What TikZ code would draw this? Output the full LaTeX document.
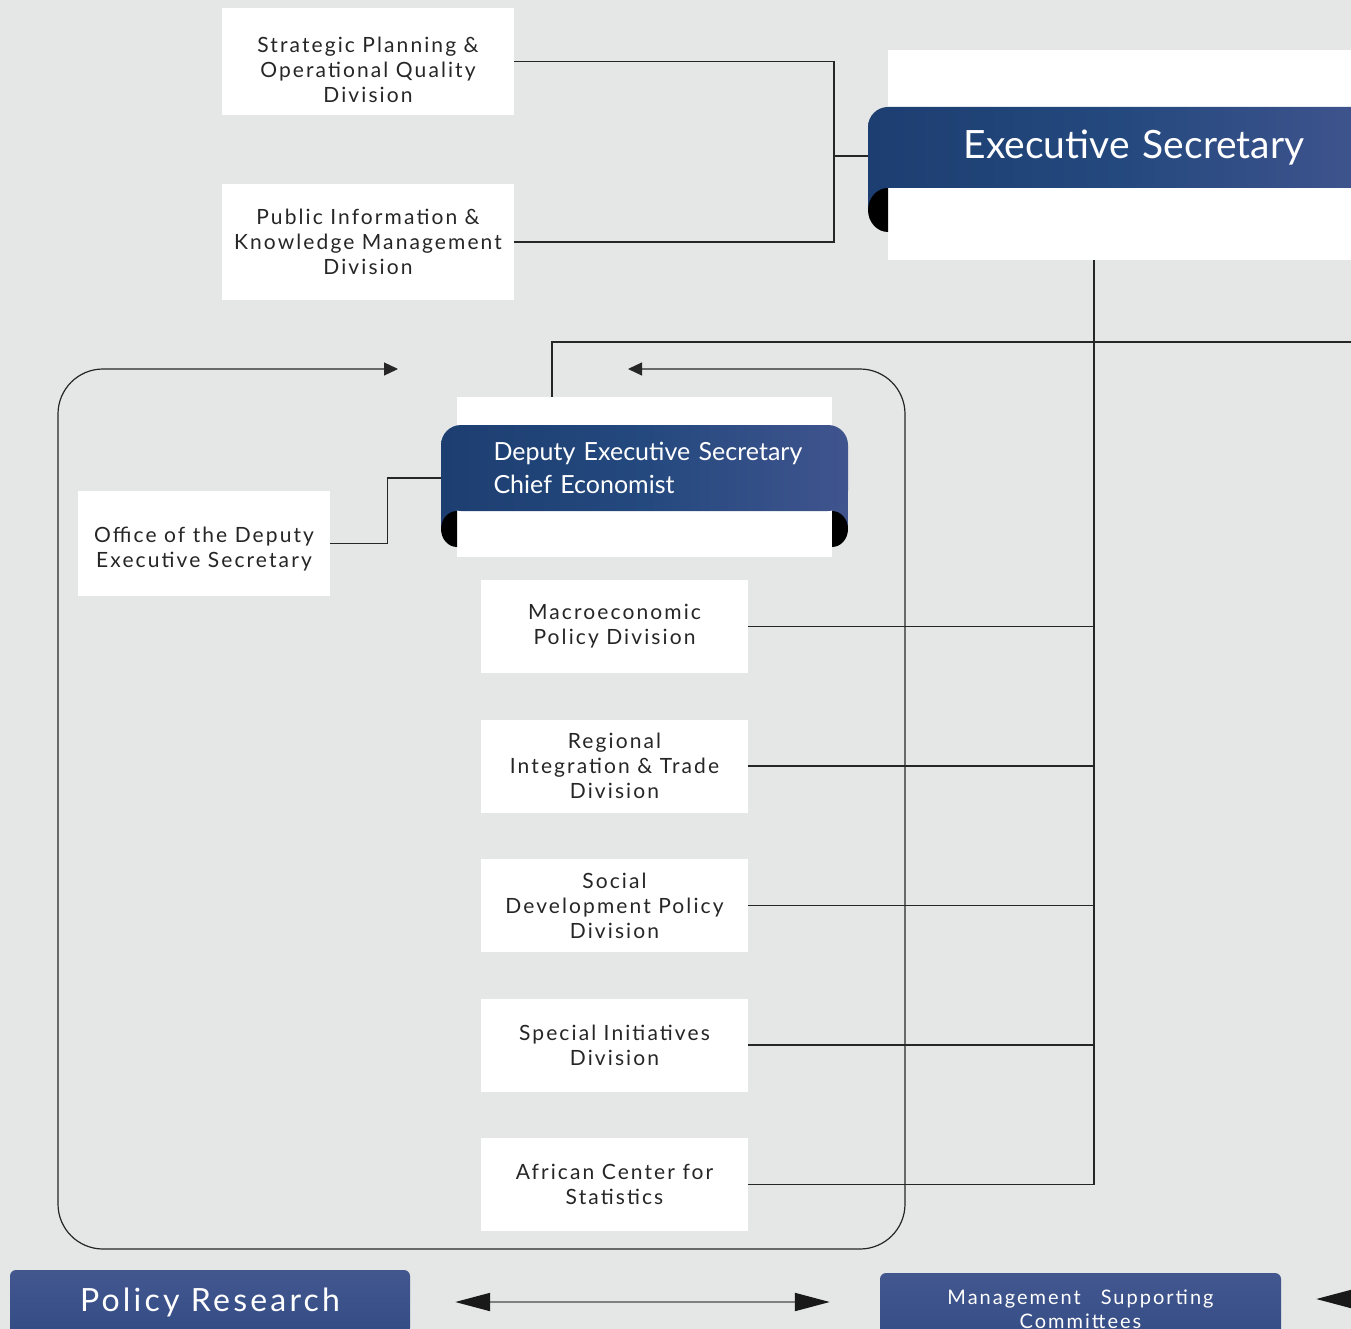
\documentclass[tikz,border=0pt]{standalone}
\usepackage{fontspec}
\setmainfont{Lato}
\newfontfamily\widefont[LetterSpace=10]{Lato}
\usetikzlibrary{positioning,arrows.meta}
\definecolor{pagebg}{HTML}{E5E7E6}
\definecolor{bannerleft}{HTML}{1D3E71}
\definecolor{bannermid}{HTML}{24497E}
\definecolor{bannerright}{HTML}{40548E}
\definecolor{boxtop}{HTML}{43578F}
\definecolor{boxbottom}{HTML}{334C84}
\definecolor{wirecol}{HTML}{262626}
\tikzset{
  divbox/.style={fill=white, inner sep=0pt, align=center, text=black!85,
    font=\widefont\fontsize{21}{25}\selectfont},
  banner/.style={left color=bannerleft, right color=bannerright, middle color=bannermid,
    rounded corners=20pt, inner sep=0pt, text=white},
  bluebox/.style={top color=boxtop, bottom color=boxbottom, rounded corners=6pt,
    inner sep=0pt, text=white, align=center},
  wire/.style={draw=wirecol, line width=1.3pt},
}
\begin{document}
\begin{tikzpicture}[x=1pt, y=-1pt, node distance=139.5pt]
\clip (0,0) rectangle (1351,1329);
\fill[pagebg] (0,0) rectangle (1351,1329);

% units under the executive secretary
\node (strategic) [divbox, minimum width=292pt, minimum height=107pt] at (368,61.5)
  {\rule{0pt}{33pt}Strategic Planning \&\\Operational Quality\\Division};
\node (publicinfo) [divbox, minimum width=292pt, minimum height=116pt] at (368,242)
  {Public Information \&\\Knowledge Management\\Division};

% executive secretary banner
\node (execsec) [fill=white, minimum width=463pt, minimum height=210pt] at (1119.5,155) {};
\fill[bannerleft] (868,170) rectangle (888,210);
\node (exectitle) [banner, minimum width=503pt, minimum height=81pt, text width=503pt,
  align=center, font=\fontsize{39}{44}\selectfont] at (1119.5,147.5)
  {\hspace*{29pt}Executive Secretary};
\fill[black] (888,188) arc[start angle=270, end angle=90, x radius=20, y radius=22];

% deputy banner
\node (deputy) [fill=white, minimum width=375pt, minimum height=160pt] at (644.5,477) {};
\fill[bannerleft] (441,490) rectangle (457,529);
\fill[bannerright] (832,490) rectangle (848,529);
\node (deputytitle) [banner, minimum width=407pt, minimum height=86pt, text width=302pt,
  align=left, font=\fontsize{25}{33}\selectfont] at (644.5,468)
  {\mbox{Deputy Executive Secretary}\\Chief Economist};
\fill[black] (457,511) arc[start angle=270, end angle=90, x radius=16, y radius=18];
\fill[black] (832,511) arc[start angle=-90, end angle=90, x radius=16, y radius=18];

\node (office) [divbox, minimum width=252pt, minimum height=105pt] at (204,543.5)
  {\rule{0pt}{27pt}Office of the Deputy\\Executive Secretary};

% divisions
\node (macro) [divbox, minimum width=267pt, minimum height=93pt] at (614.5,626.5)
  {Macroeconomic\\Policy Division};
\node (regional) [divbox, minimum width=267pt, minimum height=93pt, below of=macro]
  {Regional\\Integration \& Trade\\Division};
\node (social) [divbox, minimum width=267pt, minimum height=93pt, below of=regional]
  {Social\\Development Policy\\Division};
\node (special) [divbox, minimum width=267pt, minimum height=93pt, below of=social]
  {Special Initiatives\\Division};
\node (acs) [divbox, minimum width=267pt, minimum height=93pt, below of=special]
  {African Center for\\Statistics};

% loop round the deputy's divisions
\coordinate (loopin) at (628,369);
\coordinate (loopout) at (398,369);
\draw [wire, line width=1.2pt, rounded corners=45pt,
  {Triangle[length=14pt,width=13pt]}-{Triangle[length=14pt,width=13pt]}]
  (loopin) -| (905,1249) -| (58,369) -- (loopout);

% connectors
\coordinate (spine) at (834,156);
\draw [wire] (strategic.east) -| (spine) |- (publicinfo.east);
\draw [wire] (spine) -- (exectitle.west |- spine);

\coordinate (trunk) at (1094,260);
\draw [wire] (trunk) |- (acs.east);
\foreach \unit in {macro,regional,social,special}
  \draw [wire] (\unit.east) -- (\unit.east -| trunk);

\coordinate (offside) at (1351,342);
\draw [wire] ([xshift=-92.5pt]deputy.north) |- (offside);

\draw [wire] (office.east) -| ([xshift=-53pt,yshift=-10pt]deputytitle.west)
  -- ([yshift=-10pt]deputytitle.west);

% bottom row
\node (policy) [bluebox, minimum width=400pt, minimum height=64pt,
  font=\widefont\fontsize{32}{34}\selectfont] at (210,1302) {Policy Research};
\node (mgmt) [bluebox, minimum width=401pt, minimum height=72pt,
  font=\widefont\fontsize{20}{24}\selectfont] at (1080.5,1309)
  {Management\quad Supporting\\Committees};

\draw [draw=gray, line width=2pt, shorten <=45pt, shorten >=50pt,
  {Triangle[length=35pt,width=18pt,color=black!90]}-{Triangle[length=35pt,width=18pt,color=black!90]}]
  (policy.east) -- (policy.east -| mgmt.west);
\coordinate (offpage) at (1400,1299);
\draw [draw=gray, line width=2pt, -{Triangle[length=35pt,width=18pt,color=black!90]}]
  (offpage) -- ([xshift=35pt]mgmt.east |- offpage);
\end{tikzpicture}
\end{document}
